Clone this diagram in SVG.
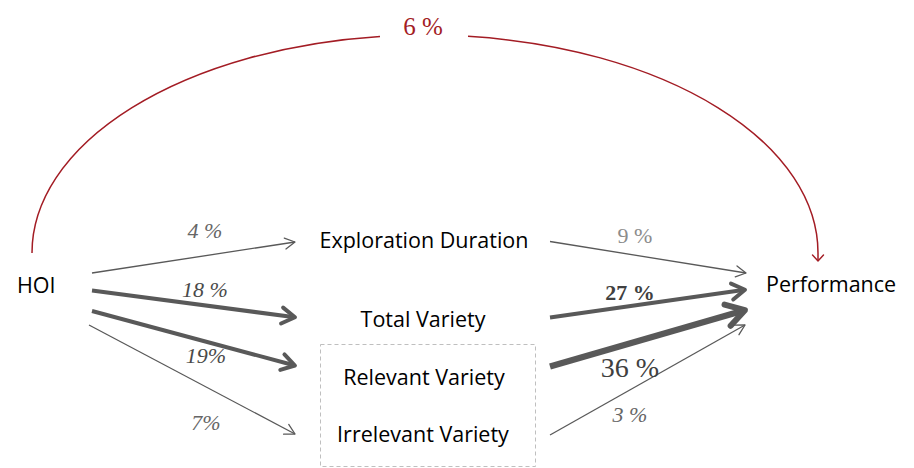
<svg xmlns="http://www.w3.org/2000/svg" width="914" height="468" viewBox="0 0 914 468">
<style>
.node{font-family:"Open Sans","Liberation Sans",sans-serif;font-size:21.5px;fill:#000}
.lbl{font-family:"Liberation Serif",serif;font-style:italic;font-size:22px;fill:#595959}
.c{fill:none;stroke:#595959}
.thin{stroke-width:1.3}
.thick{stroke-width:4}
.heavy{stroke-width:6.5}
</style>
<defs>
<marker id="hThin" markerUnits="userSpaceOnUse" viewBox="0 0 14 14" refX="12" refY="7" markerWidth="14" markerHeight="14" orient="auto" overflow="visible">
<path d="M2,1.5 L12,7 L2,12.5" fill="none" stroke="#595959" stroke-width="1.3" stroke-linecap="round" stroke-linejoin="round"/>
</marker>
<marker id="hThick" markerUnits="userSpaceOnUse" viewBox="0 0 20 20" refX="14" refY="10" markerWidth="20" markerHeight="20" orient="auto" overflow="visible">
<path d="M3,2 L16,10 L3,18" fill="none" stroke="#595959" stroke-width="4" stroke-linecap="round" stroke-linejoin="round"/>
</marker>
<marker id="hHeavy" markerUnits="userSpaceOnUse" viewBox="0 0 28 28" refX="19" refY="14" markerWidth="28" markerHeight="28" orient="auto" overflow="visible">
<path d="M4,3 L22,14 L4,25" fill="none" stroke="#595959" stroke-width="6" stroke-linecap="round" stroke-linejoin="round"/>
</marker>
<marker id="hRed" markerUnits="userSpaceOnUse" viewBox="0 0 14 14" refX="7" refY="7" markerWidth="14" markerHeight="14" orient="auto" overflow="visible">
<path d="M1,1.5 L7,7 L1,12.5" fill="none" stroke="#a31c24" stroke-width="1.4" stroke-linecap="round" stroke-linejoin="round"/>
</marker>
</defs>

<g id="connectors">
<path id="arc-left" d="M32,253 A393,218 0 0 1 380,36.4" fill="none" stroke="#a31c24" stroke-width="1.5"/>
<path id="arc-right" d="M468,36.3 A393,218 0 0 1 818,253 L818,261" fill="none" stroke="#a31c24" stroke-width="1.5" marker-end="url(#hRed)"/>

<line class="c thin" x1="92" y1="273" x2="295" y2="242" marker-end="url(#hThin)"/>
<line class="c thick" x1="92" y1="290.5" x2="293" y2="317" marker-end="url(#hThick)"/>
<line class="c thick" x1="92" y1="311" x2="293" y2="365" marker-end="url(#hThick)"/>
<line class="c thin" x1="89" y1="325" x2="295" y2="434" marker-end="url(#hThin)"/>

<line class="c thin" x1="550" y1="241.5" x2="746" y2="273" marker-end="url(#hThin)"/>
<line class="c thick" x1="550" y1="317.5" x2="743" y2="290" marker-end="url(#hThick)"/>
<line class="c heavy" x1="550" y1="366.5" x2="742" y2="311" marker-end="url(#hHeavy)"/>
<line class="c thin" x1="550" y1="435" x2="745" y2="325" marker-end="url(#hThin)"/>

<text class="lbl" x="423" y="35" text-anchor="middle" style="fill:#a31c24;font-size:25px;font-style:normal">6 %</text>
<text class="lbl" x="205" y="238" text-anchor="middle" style="fill:#666">4 %</text>
<text class="lbl" x="205" y="297" text-anchor="middle" style="fill:#4a4a4a">18 %</text>
<text class="lbl" x="206" y="363" text-anchor="middle" style="fill:#4a4a4a">19%</text>
<text class="lbl" x="206" y="430" text-anchor="middle" style="fill:#666">7%</text>
<text class="lbl" x="635" y="243" text-anchor="middle" style="fill:#8c8c8c;font-style:normal">9 %</text>
<text class="lbl" x="630" y="300" text-anchor="middle" style="fill:#404040;font-weight:bold;font-style:normal">27 %</text>
<text class="lbl" x="630" y="377" text-anchor="middle" style="fill:#404040;font-size:28px;font-style:normal">36 %</text>
<text class="lbl" x="630" y="422" text-anchor="middle" style="fill:#666">3 %</text>
</g>

<g id="hoi"><text class="node" x="17" y="293">HOI</text></g>
<g id="exploration-duration"><text class="node" x="424" y="248" text-anchor="middle">Exploration Duration</text></g>
<g id="total-variety"><text class="node" x="423" y="327" text-anchor="middle">Total Variety</text></g>
<g id="variety-box"><rect x="320.5" y="344.5" width="215" height="122" fill="none" stroke="#bfbfbf" stroke-width="1" stroke-dasharray="4,3"/></g>
<g id="relevant-variety"><text class="node" x="424" y="385" text-anchor="middle">Relevant Variety</text></g>
<g id="irrelevant-variety"><text class="node" x="423" y="442" text-anchor="middle">Irrelevant Variety</text></g>
<g id="performance"><text class="node" x="766" y="292">Performance</text></g>
</svg>
